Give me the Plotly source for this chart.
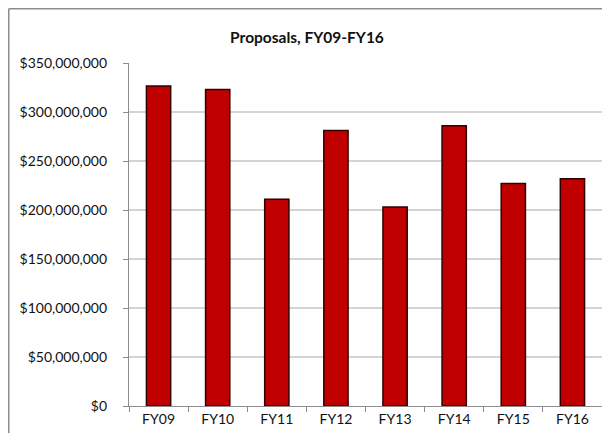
import plotly.graph_objects as go

categories = ["FY09", "FY10", "FY11", "FY12", "FY13", "FY14", "FY15", "FY16"]
proposals = [326500000, 323000000, 211000000, 281000000, 203000000, 286000000, 227000000, 232000000]
y_ticks = [0, 50000000, 100000000, 150000000, 200000000, 250000000, 300000000, 350000000]
y_tick_labels = ["$" + format(v, ",d") for v in y_ticks]

# page body has an 8px margin, so the figure starts at (8, 8) in the window
W, H = 594, 425
L, R, T, B = 121, 0, 55, 27

fig = go.Figure()
fig.add_trace(go.Bar(
    x=categories, y=proposals,
    width=0.41,
    marker=dict(color="#C00000", line=dict(color="#300000", width=1.5)),
    hoverinfo="x+y",
))

pw = W - L - R
ph = H - T - B
def px_x(p):
    return (p - L) / pw
def px_y(p):
    return (H - B - p) / ph

border = dict(color="#8c8c8c", width=1.5)
# chart-area frame: top and left edges (right/bottom fall outside the picture)
fig.add_shape(type="line", xref="paper", yref="paper",
              x0=px_x(0.75), x1=px_x(W), y0=px_y(0.75), y1=px_y(0.75), line=border, layer="below")
fig.add_shape(type="line", xref="paper", yref="paper",
              x0=px_x(0.75), x1=px_x(0.75), y0=px_y(0.75), y1=px_y(H), line=border, layer="below")

fig.update_layout(
    width=W, height=H,
    margin=dict(l=L, r=R, t=T, b=B),
    paper_bgcolor="white", plot_bgcolor="white",
    font=dict(family="Lato, 'Open Sans', sans-serif", size=14, color="#111"),
    title=dict(text="<b>Proposals, FY09-FY16</b>", x=(W / 2 + 2) / W, xanchor="center",
               y=1 - 30 / H, yanchor="middle", yref="container",
               font=dict(size=15.5, color="#111")),
    showlegend=False,
    bargap=0.59,
)
fig.update_xaxes(
    showline=True, linecolor="#8c8c8c", linewidth=1.2,
    ticks="outside", ticklen=5, tickcolor="#8c8c8c", tickson="boundaries",
    showgrid=False, tickfont=dict(size=14, color="#111"),
)
fig.update_yaxes(
    range=[0, 350000000], tickvals=y_ticks, ticktext=y_tick_labels,
    showline=True, linecolor="#8c8c8c", linewidth=1.2,
    ticks="outside", ticklen=5, tickcolor="#8c8c8c",
    ticklabelstandoff=13,
    showgrid=True, gridcolor="#d4d4d4", gridwidth=1.5,
    zeroline=False, tickfont=dict(size=14, color="#111"),
)

fig.write_html("out.html")
